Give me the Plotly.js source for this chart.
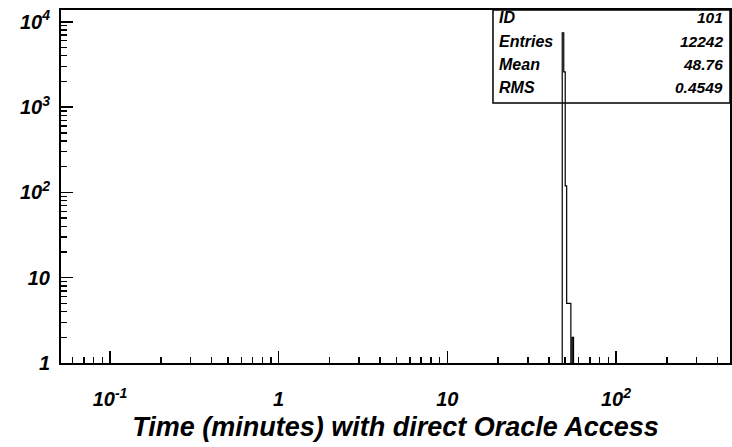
<!DOCTYPE html>
<html>
<head>
<meta charset="utf-8">
<script src="https://cdn.plot.ly/plotly-3.0.1.min.js"></script>
<style>html,body{margin:0;padding:0;background:#fff;}#chart{width:732px;height:447px;}</style>
</head>
<body>
<div id="chart"></div>
<script>
// Histogram data (bin lower edges, bin width 1 minute)
const binLow = [48, 49, 50, 51, 52, 53, 54, 55];
const binWidth = 1;
const counts = [7400, 2580, 119, 5, 5, 5, 0, 2];

// Stats box
const statLabels = ["ID", "Entries", "Mean", "RMS"];
const statValues = ["101", "12242", "48.76", "0.4549"];

// Tick labels
const xTickVals = [0.1, 1, 10, 100];
const xTickText = ["10<sup>-1</sup>", "1", "10", "10<sup>2</sup>"];
const yTickVals = [1, 10, 100, 1000, 10000];
const yTickText = ["1", "10", "10<sup>2</sup>", "10<sup>3</sup>", "10<sup>4</sup>"];

const FONT = "Liberation Sans, Arial, Helvetica, sans-serif";

// Build step outline
const floorVal = 0.3;
const xs = [binLow[0]], ys = [floorVal];
for (let i = 0; i < binLow.length; i++) {
  xs.push(binLow[i]);
  ys.push(counts[i] > 0 ? counts[i] : floorVal);
}
xs.push(binLow[binLow.length - 1] + binWidth);
ys.push(floorVal);

function minorVals(d0, d1) {
  const v = [];
  for (let d = d0; d <= d1; d++) for (let k = 2; k <= 9; k++) v.push(k * Math.pow(10, d));
  return v;
}

const trace = {
  x: xs, y: ys, type: "scatter", mode: "lines",
  line: {shape: "hv", color: "black", width: 1.2},
  hoverinfo: "skip", showlegend: false
};

const annotations = [];
const rowY = [0.978, 0.911, 0.846, 0.781];
for (let i = 0; i < statLabels.length; i++) {
  annotations.push({xref: "paper", yref: "paper", x: 0.6517, y: rowY[i], xanchor: "left", yanchor: "middle",
    text: "<b><i>" + statLabels[i] + "</i></b>", showarrow: false, font: {family: FONT, size: 16, color: "black"}});
  annotations.push({xref: "paper", yref: "paper", x: 0.9925, y: rowY[i], xanchor: "right", yanchor: "middle",
    text: "<b><i>" + statValues[i] + "</i></b>", showarrow: false, font: {family: FONT, size: 15.5, color: "black"}});
}

const layout = {
  width: 732, height: 447,
  margin: {l: 61, r: 2, t: 10, b: 84},
  paper_bgcolor: "white", plot_bgcolor: "white",
  showlegend: false,
  xaxis: {
    type: "log", range: [-1.2905, 2.6759], autorange: false,
    showgrid: false, zeroline: false,
    showline: true, linecolor: "black", linewidth: 2, mirror: true,
    ticks: "inside", ticklen: 12, tickwidth: 1.5, tickcolor: "black",
    tickmode: "array", tickvals: xTickVals, ticktext: xTickText,
    ticklabelstandoff: 17,
    tickfont: {family: FONT, size: 20, color: "black", weight: "bold", style: "italic"},
    minor: {tickmode: "array", tickvals: minorVals(-2, 2), ticks: "inside", ticklen: 6, tickwidth: 1.5, tickcolor: "black", showgrid: false},
    title: {text: "<b><i>Time (minutes) with direct Oracle Access</i></b>", standoff: 8,
      font: {family: FONT, size: 27, color: "black"}}
  },
  yaxis: {
    type: "log", range: [0, 4.138], autorange: false,
    showgrid: false, zeroline: false,
    showline: true, linecolor: "black", linewidth: 2, mirror: true,
    ticks: "inside", ticklen: 12, tickwidth: 1.5, tickcolor: "black",
    tickmode: "array", tickvals: yTickVals, ticktext: yTickText,
    ticklabelstandoff: 5,
    tickfont: {family: FONT, size: 20, color: "black", weight: "bold", style: "italic"},
    minor: {tickmode: "array", tickvals: minorVals(0, 4), ticks: "inside", ticklen: 6, tickwidth: 1.5, tickcolor: "black", showgrid: false}
  },
  shapes: [{type: "rect", xref: "paper", yref: "paper", x0: 0.6457, x1: 1, y0: 0.7365, y1: 1,
    line: {color: "black", width: 1.5}, fillcolor: "rgba(0,0,0,0)"}],
  annotations: annotations
};

Plotly.newPlot("chart", [trace], layout, {staticPlot: true, displayModeBar: false});
</script>
</body>
</html>
